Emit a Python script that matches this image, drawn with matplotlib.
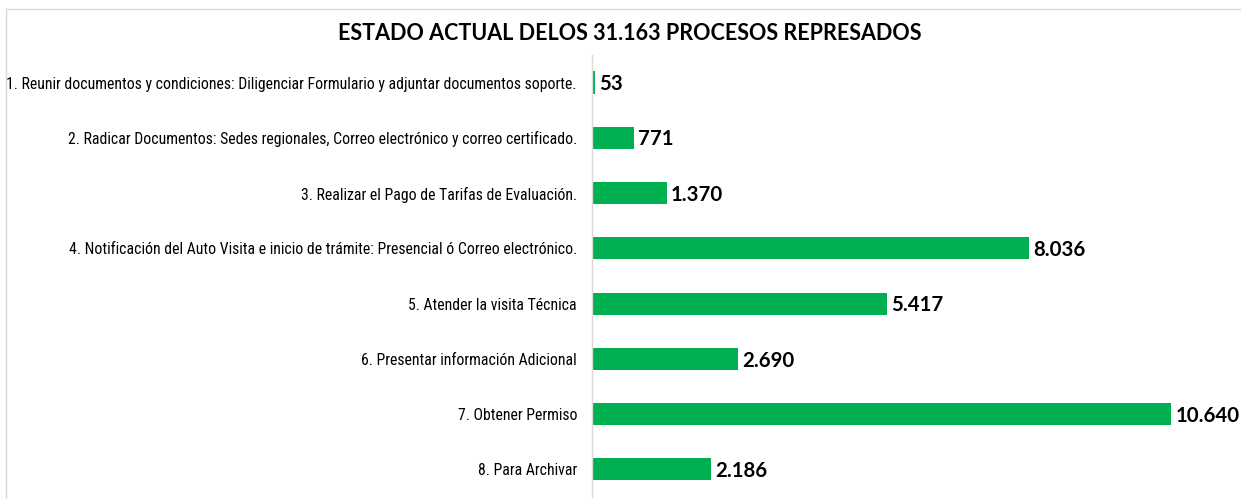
import matplotlib.pyplot as plt
from matplotlib.lines import Line2D
from matplotlib import font_manager

# Datos del grafico
etapas = [
    '1. Reunir documentos y condiciones: Diligenciar Formulario y adjuntar documentos soporte.',
    '2. Radicar Documentos: Sedes regionales, Correo electrónico y correo certificado.',
    '3. Realizar el Pago de Tarifas de Evaluación.',
    '4. Notificación del Auto Visita e inicio de trámite: Presencial ó Correo electrónico.',
    '5. Atender la visita Técnica',
    '6. Presentar información Adicional',
    '7. Obtener Permiso',
    '8. Para Archivar',
]
procesos = [53, 771, 1370, 8036, 5417, 2690, 10640, 2186]
titulo = 'ESTADO ACTUAL DELOS 31.163 PROCESOS REPRESADOS'

verde = '#00B050'
gris = '#d9d9d9'


def fmt(v):
    return f'{v:,}'.replace(',', '.')


# buscar una fuente estrecha (tipo Arial Narrow) si existe
instaladas = {f.name for f in font_manager.fontManager.ttflist}
narrow = None
for cand in ['Liberation Sans Narrow', 'Arial Narrow', 'Roboto Condensed',
             'DejaVu Sans Condensed', 'Open Sans Condensed', 'Noto Sans Condensed']:
    if cand in instaladas:
        narrow = cand
        break
if narrow:
    fam_lab, size_lab = [narrow, 'Liberation Sans'], 11.3
else:
    fam_lab, size_lab = ['Liberation Sans'], 9.7

fig = plt.figure(figsize=(12.41, 4.99), dpi=100)
ax = fig.add_axes([592 / 1241, 0.004, 1 - 592 / 1241, 0.886])

y = list(range(len(etapas)))
ax.barh(y, procesos, height=0.4, color=verde)
ax.set_ylim(len(etapas) - 0.5, -0.5)
ax.set_xlim(0, 11926)

for yi, v in zip(y, procesos):
    ax.text(v + 80, yi + 0.03, fmt(v), va='center', ha='left', fontsize=14.7,
            fontweight='bold', family=['Lato', 'DejaVu Sans'])

ax.set_yticks(y)
ax.set_yticklabels(etapas, family=fam_lab, fontsize=size_lab)
ax.tick_params(axis='y', length=0, pad=10.8)
ax.set_xticks([])
for side in ['top', 'right', 'bottom']:
    ax.spines[side].set_visible(False)
ax.spines['left'].set_color(gris)
ax.spines['left'].set_linewidth(1)

fig.text(630 / 1241, 1 - 33 / 499, titulo, ha='center', va='center',
         fontsize=15.5, fontweight='bold', family=['Lato', 'DejaVu Sans'])

# borde del area del grafico (arriba e izquierda)
fig.add_artist(Line2D([6 / 1241, 1], [1 - 9 / 499, 1 - 9 / 499],
                      color=gris, linewidth=1))
fig.add_artist(Line2D([6 / 1241, 6 / 1241], [0, 1 - 9 / 499],
                      color=gris, linewidth=1))

fig.savefig('out.png', dpi=100)
